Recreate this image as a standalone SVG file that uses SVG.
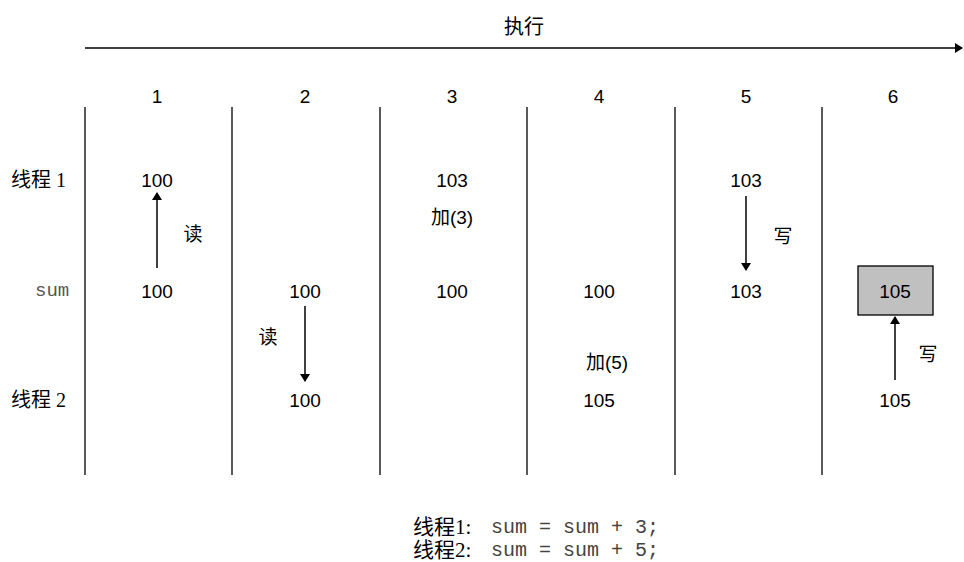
<svg xmlns="http://www.w3.org/2000/svg" width="964" height="562" viewBox="0 0 964 562">
<defs>
<marker id="ah" markerWidth="8" markerHeight="10" refX="7" refY="5" orient="auto" markerUnits="userSpaceOnUse">
<path d="M0,0 L8,5 L0,10 Z" fill="#000"/>
</marker>
<style>
.num{font-family:"Liberation Sans","Noto Sans CJK SC",sans-serif;font-size:19px;fill:#000;text-anchor:middle;dominant-baseline:central}
.cjk{font-family:"Liberation Serif","Noto Sans CJK SC",serif;font-size:20px;fill:#000;dominant-baseline:central}
.mono{font-family:"Liberation Mono",monospace;font-size:20px;fill:#444;dominant-baseline:central}
.vl{stroke:#000;stroke-width:1.3}
.ar{stroke:#000;stroke-width:1.5;fill:none;marker-end:url(#ah)}
</style>
</defs>
<rect width="964" height="562" fill="#fff"/>
<g id="header">
<text class="num" x="524" y="27" style="font-size:20px">执行</text>
<line x1="85" y1="48" x2="962" y2="48" class="ar"/>
<text class="num" x="157" y="96">1</text>
<text class="num" x="305" y="96">2</text>
<text class="num" x="452" y="96">3</text>
<text class="num" x="599" y="96">4</text>
<text class="num" x="746" y="96">5</text>
<text class="num" x="893" y="96">6</text>
</g>
<g id="lanes">
<line class="vl" x1="85" y1="107" x2="85" y2="475"/>
<line class="vl" x1="232" y1="107" x2="232" y2="475"/>
<line class="vl" x1="380" y1="107" x2="380" y2="475"/>
<line class="vl" x1="527" y1="107" x2="527" y2="475"/>
<line class="vl" x1="675" y1="107" x2="675" y2="475"/>
<line class="vl" x1="822" y1="107" x2="822" y2="475"/>
</g>
<g id="rowlabels">
<text class="cjk" x="11" y="180">线程 1</text>
<text class="mono" x="35" y="291" style="font-size:19px;fill:#555">sum</text>
<text class="cjk" x="11" y="400">线程 2</text>
</g>
<g id="col1">
<text class="num" x="157" y="180">100</text>
<text class="num" x="157" y="291">100</text>
<text class="num" x="193" y="234">读</text>
</g>
<g id="col2">
<text class="num" x="305" y="291">100</text>
<text class="num" x="268" y="337">读</text>
<text class="num" x="305" y="400">100</text>
</g>
<g id="col3">
<text class="num" x="452" y="180">103</text>
<text class="num" x="452" y="217">加(3)</text>
<text class="num" x="452" y="291">100</text>
</g>
<g id="col4">
<text class="num" x="607" y="362">加(5)</text>
<text class="num" x="599" y="291">100</text>
<text class="num" x="599" y="400">105</text>
</g>
<g id="col5">
<text class="num" x="746" y="180">103</text>
<text class="num" x="783" y="236">写</text>
<text class="num" x="746" y="291">103</text>
</g>
<g id="col6">
<rect x="858" y="266" width="75" height="49" fill="#c0c0c0" stroke="#000" stroke-width="1.3"/>
<text class="num" x="895" y="291">105</text>
<text class="num" x="928" y="354">写</text>
<text class="num" x="895" y="400">105</text>
</g>
<g id="connectors">
<line class="ar" x1="157" y1="268" x2="157" y2="193"/>
<line class="ar" x1="305" y1="306" x2="305" y2="381"/>
<line class="ar" x1="746" y1="196" x2="746" y2="270"/>
<line class="ar" x1="895" y1="380" x2="895" y2="317"/>
</g>
<g id="code">
<text class="cjk" x="413" y="527" style="font-size:21px">线程1:</text>
<text class="mono" x="491" y="527" xml:space="preserve">sum = sum + 3;</text>
<text class="cjk" x="413" y="550" style="font-size:21px">线程2:</text>
<text class="mono" x="491" y="550" xml:space="preserve">sum = sum + 5;</text>
</g>
</svg>
